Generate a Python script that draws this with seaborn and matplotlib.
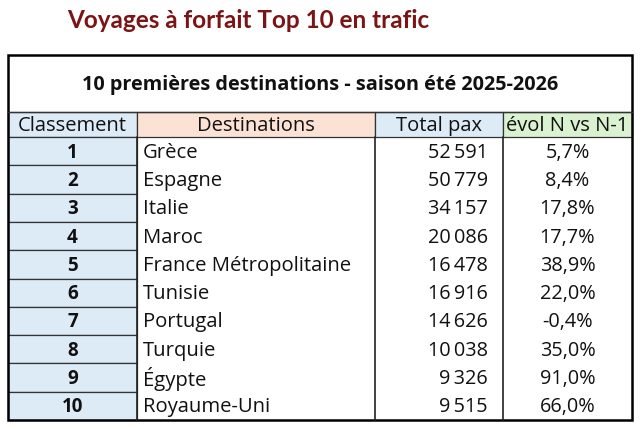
import matplotlib.pyplot as plt
import matplotlib.patches as patches
import seaborn as sns

titre = "Voyages à forfait Top 10 en trafic"
sous_titre = "10 premières destinations - saison été 2025-2026"
entetes = ["Classement", "Destinations", "Total pax", "évol N vs N-1"]
classement = ["1", "2", "3", "4", "5", "6", "7", "8", "9", "10"]
destinations = ["Grèce", "Espagne", "Italie", "Maroc", "France Métropolitaine",
                "Tunisie", "Portugal", "Turquie", "Égypte", "Royaume-Uni"]
total_pax = [52591, 50779, 34157, 20086, 16478, 16916, 14626, 10038, 9326, 9515]
evol = [5.7, 8.4, 17.8, 17.7, 38.9, 22.0, -0.4, 35.0, 91.0, 66.0]

sns.set_theme(style="white")
plt.rcParams["font.family"] = ["Open Sans", "DejaVu Sans"]

fig = plt.figure(figsize=(6.44, 4.29), dpi=100)
ax = fig.add_axes([0, 0, 1, 1])
ax.set_xlim(0, 644)
ax.set_ylim(429, 0)
ax.axis("off")

# geometry (pixels)
cols = [8, 137, 375, 503, 632]
top = 55
head_top = 112
head_bot = 137
bottom = 420
row_h = (bottom - head_bot) / len(classement)

bleu = "#DDEBF7"
peche = "#FBE2D5"
vert = "#DAF2D0"
head_colors = [bleu, peche, bleu, vert]

ax.text(67, 20, titre, ha="left", va="center", fontsize=17.5, fontweight="bold", color="#7B1414",
        family=["Lato", "DejaVu Sans"])

# title row
ax.text((cols[0] + cols[-1]) / 2, (top + head_top) / 2 + 1.5, sous_titre, ha="center", va="center",
        fontsize=14.3, fontweight="bold", color="#111111")

# header row
for i, h in enumerate(entetes):
    ax.add_patch(patches.Rectangle((cols[i], head_top), cols[i + 1] - cols[i], head_bot - head_top,
                                   facecolor=head_colors[i], edgecolor="#333333", lw=0.9))
    ax.text((cols[i] + cols[i + 1]) / 2, (head_top + head_bot) / 2 + 1.5, h, ha="center", va="center",
            fontsize=14.5, color="#111111")

# data rows
for r in range(len(classement)):
    y0 = head_bot + r * row_h
    yc = y0 + row_h / 2 + 1.5
    ax.add_patch(patches.Rectangle((cols[0], y0), cols[1] - cols[0], row_h,
                                   facecolor=bleu, edgecolor="#333333", lw=0.9))
    ax.text((cols[0] + cols[1]) / 2, yc, classement[r], ha="center", va="center",
            fontsize=13.5, fontweight="bold", color="#111111")
    ax.text(cols[1] + 6, yc, destinations[r], ha="left", va="center", fontsize=14.6, color="#111111")
    pax = f"{total_pax[r]:,}".replace(",", "\u2009")
    ax.text(cols[3] - 15, yc, pax, ha="right", va="center", fontsize=14.3, color="#111111")
    ev = f"{evol[r]:.1f}%".replace(".", ",")
    ax.text((cols[3] + cols[4]) / 2, yc, ev, ha="center", va="center", fontsize=14.3, color="#111111")

# vertical lines in body
for x in cols[1:4]:
    ax.plot([x, x], [head_bot, bottom], color="#222222", lw=1.2)

# outer border
ax.add_patch(patches.Rectangle((cols[0], top), cols[-1] - cols[0], bottom - top,
                               facecolor="none", edgecolor="black", lw=1.8))
ax.plot([cols[0], cols[-1]], [head_top, head_top], color="#333333", lw=1)

fig.savefig("out.png", dpi=100)
